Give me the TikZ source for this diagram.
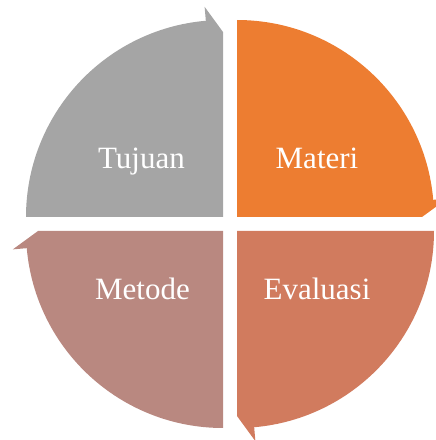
\documentclass[tikz,border=0pt]{standalone}
\usepackage{fontspec}
\setmainfont{Liberation Serif}
\definecolor{cgray}{RGB}{165,165,165}
\definecolor{corange}{RGB}{237,125,49}
\definecolor{ceval}{RGB}{209,123,94}
\definecolor{cmet}{RGB}{185,136,128}
\tikzset{
  lbl/.style={text=white, font=\fontsize{31}{31}\selectfont, anchor=base, inner sep=0pt},
}
\newcommand{\quadarrow}[3]{%
  \begin{scope}[shift={#1}, rotate=#2]
    \fill[#3] (0,0) -- (180:197pt) arc[start angle=180, end angle=95, radius=197pt]
      -- (95:211pt) -- (90:185pt) -- cycle;
  \end{scope}}
\begin{document}
\begin{tikzpicture}[x=1pt,y=1pt]
\useasboundingbox (0,0) rectangle (436,440);
\clip (0,0) rectangle (436,440);
\quadarrow{(223,223)}{0}{cgray}
\quadarrow{(237,223)}{-90}{corange}
\quadarrow{(237,209)}{-180}{ceval}
\quadarrow{(223,209)}{-270}{cmet}
\node[lbl] (tujuan) at (141.5,271) {Tujuan};
\node[lbl] (materi) at (317,271) {Materi};
\node[lbl] (metode) at (142.5,140) {Metode};
\node[lbl] (evaluasi) at (317,140) {Evaluasi};
\end{tikzpicture}
\end{document}
